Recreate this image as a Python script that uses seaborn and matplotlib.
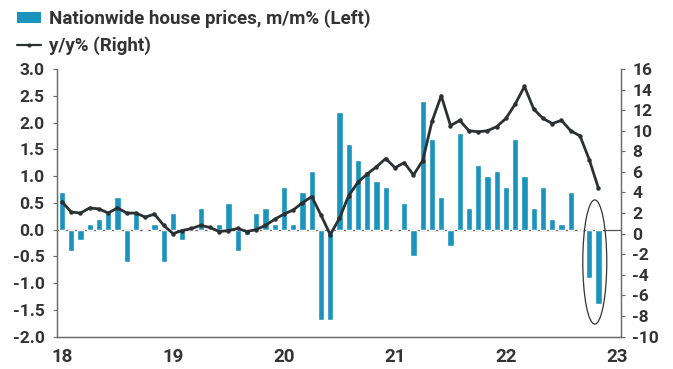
import matplotlib
matplotlib.use('Agg')
import matplotlib.pyplot as plt
from matplotlib.patches import Ellipse, Patch
from matplotlib.lines import Line2D
import seaborn as sns
import pandas as pd

# Data: Jan 2018 - Nov 2022, monthly
months = pd.period_range('2018-01', '2022-11', freq='M')

mm_change = [
    0.7, -0.4, -0.2, 0.1, 0.2, 0.3, 0.6, -0.6, 0.3, 0.0, 0.1, -0.6,   # 2018
    0.3, -0.2, 0.0, 0.4, 0.0, 0.1, 0.5, -0.4, -0.1, 0.3, 0.4, 0.1,    # 2019
    0.8, 0.1, 0.7, 1.1, -1.7, -1.7, 2.2, 1.6, 1.3, 1.1, 0.9, 0.8,     # 2020
    0.0, 0.5, -0.5, 2.4, 1.7, 0.6, -0.3, 1.8, 0.4, 1.2, 1.0, 1.1,     # 2021
    0.8, 1.7, 1.0, 0.4, 0.8, 0.2, 0.1, 0.7, 0.0, -0.9, -1.4,          # 2022
]
yy_change = [
    3.1, 2.1, 2.0, 2.5, 2.4, 2.0, 2.5, 2.0, 2.0, 1.6, 1.9, 0.8,
    0.0, 0.3, 0.5, 0.8, 0.6, 0.2, 0.3, 0.5, 0.2, 0.4, 0.8, 1.4,
    1.9, 2.3, 3.0, 3.6, 1.8, -0.1, 1.5, 3.7, 5.0, 5.8, 6.5, 7.3,
    6.4, 6.9, 5.7, 7.1, 10.9, 13.4, 10.5, 11.0, 10.0, 9.9, 10.0, 10.4,
    11.2, 12.6, 14.3, 12.1, 11.2, 10.7, 11.0, 10.0, 9.5, 7.2, 4.4,
]
year_ticks = [18, 19, 20, 21, 22, 23]
left_ticks = [3.0, 2.5, 2.0, 1.5, 1.0, 0.5, 0.0, -0.5, -1.0, -1.5, -2.0]
right_ticks = [16, 14, 12, 10, 8, 6, 4, 2, 0, -2, -4, -6, -8, -10]

df = pd.DataFrame({
    'x': [(m.year - 2000) + (m.month - 1) / 12 for m in months],
    'mm': mm_change,
    'yy': yy_change,
})

bar_color = '#1a93bd'
line_color = '#2b3133'
text_color = '#333333'
axis_color = '#6b6b6b'

sns.set_style('white')
plt.rcParams['font.family'] = ['Roboto', 'DejaVu Sans']
plt.rcParams['font.weight'] = 'semibold'

fig = plt.figure(figsize=(6.73, 3.69), dpi=100)
ax = fig.add_axes([0.0847, 0.088, 0.838, 0.725])

sns.barplot(data=df, x='x', y='mm', native_scale=True, width=0.68,
            color=bar_color, saturation=1, errorbar=None, ax=ax, zorder=2)
ax.axhline(0, color='#555555', lw=0.9, zorder=1)

ax2 = ax.twinx()
sns.lineplot(data=df, x='x', y='yy', ax=ax2, color=line_color, lw=2.0,
             marker='o', markersize=3.2, markeredgewidth=0)

ax.set_xlim(17.955, 23.036)
ax.set_ylim(-2.0, 3.0)
ax2.set_ylim(-10, 16)

ax.set_xticks(year_ticks)
ax.set_xticklabels([str(y) for y in year_ticks])
ax.set_yticks(left_ticks)
ax.set_yticklabels([f'{v:.1f}' for v in left_ticks])
ax2.set_yticks(right_ticks)
ax2.set_yticklabels([str(v) for v in right_ticks])

ax.set_xlabel('')
ax.set_ylabel('')
ax2.set_xlabel('')
ax2.set_ylabel('')

ax.tick_params(axis='x', length=0, pad=8, labelsize=13.5, labelcolor=text_color)
ax.tick_params(axis='y', length=3, width=0.8, color=axis_color, pad=6,
               labelsize=12.5, labelcolor=text_color)
ax2.tick_params(axis='y', length=3, width=0.8, color=axis_color, pad=5,
                labelsize=12.5, labelcolor=text_color)

for a in (ax, ax2):
    a.spines['top'].set_visible(False)
    for s in ('left', 'right', 'bottom'):
        a.spines[s].set_color(axis_color)
        a.spines[s].set_linewidth(0.9)

# ellipse highlighting the latest two months
ell = Ellipse((22.80, -0.607), 0.216, 2.32, fill=False, edgecolor='#333333',
              lw=0.9, transform=ax.transData, clip_on=False, zorder=5)
ax.add_patch(ell)

handles = [
    Patch(facecolor=bar_color, edgecolor='none'),
    Line2D([0], [0], color=line_color, lw=1.6, marker='o', markersize=3,
           markeredgewidth=0),
]
labels = ['Nationwide house prices, m/m% (Left)', 'y/y% (Right)']
leg = fig.legend(handles, labels, loc='upper left', bbox_to_anchor=(0.008, 1.005),
                 frameon=False, fontsize=13.5, handlelength=1.3, handleheight=0.55,
                 handletextpad=0.4, labelspacing=0.42, borderaxespad=0.2)
for t in leg.get_texts():
    t.set_color(text_color)

fig.savefig('out.png', dpi=100)
